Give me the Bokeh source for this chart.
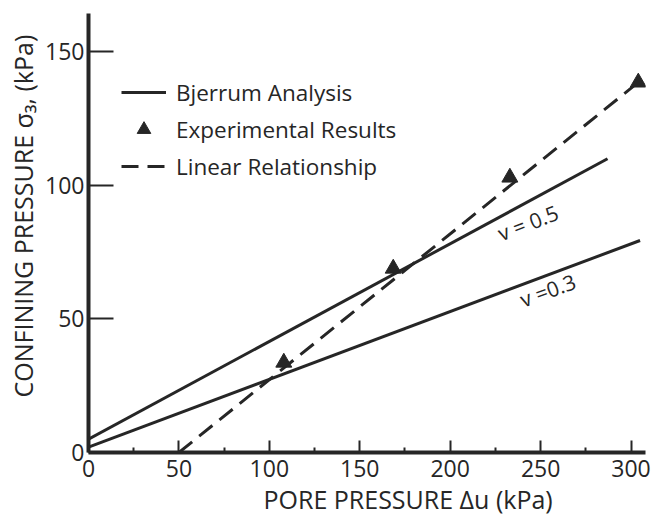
import math
from bokeh.plotting import figure
from bokeh.models import FixedTicker, Legend, LegendItem, Range1d, Title
from bokeh.core.properties import value
from bokeh.embed import file_html
from bokeh.resources import INLINE

# ---- data ----
x_ticks = [0, 50, 100, 150, 200, 250, 300]
x_minor_ticks = [25, 75, 125, 175, 225, 275]
y_ticks = [0, 50, 100, 150]

v05_x = [0, 287]
v05_y = [5, 110]
v03_x = [0, 305]
v03_y = [2, 79.4]

lin_x = [50, 304]
lin_y = [0, 138.6]

exp_x = [108, 168.5, 233, 304]
exp_y = [33.7, 68.9, 103, 138.6]

nu_labels = ["v = 0.5", "v =0.3"]
nu_label_x = [243, 254]
nu_label_y = [86, 60.7]
nu_label_angle_deg = [21, 20]

x_title = "PORE PRESSURE Δu (kPa)"
y_title = "CONFINING PRESSURE σ₃, (kPa)"

INK = "#262626"
FONT = "Open Sans"

p = figure(width=660, height=517,
           x_range=Range1d(0, 308), y_range=Range1d(0, 164.4),
           output_backend="svg", toolbar_location=None,
           min_border_left=88, min_border_right=15,
           min_border_top=13, min_border_bottom=65,
           background_fill_color="white", border_fill_color="white")
p.outline_line_color = None
p.grid.visible = False

# axes
p.xaxis.ticker = FixedTicker(ticks=x_ticks, minor_ticks=x_minor_ticks)
p.yaxis.ticker = FixedTicker(ticks=y_ticks)
for ax in (p.xaxis, p.yaxis):
    ax.axis_line_width = 4
    ax.axis_line_color = INK
    ax.major_tick_line_color = INK
    ax.major_tick_line_width = 2
    ax.major_tick_out = 0
    ax.minor_tick_out = 0
    ax.major_label_text_font = FONT
    ax.major_label_text_font_size = "23px"
    ax.major_label_text_color = INK

p.xaxis.major_tick_in = 12
p.xaxis.minor_tick_in = 5
p.xaxis.minor_tick_line_color = INK
p.xaxis.minor_tick_line_width = 2
p.xaxis.major_label_standoff = 7

p.yaxis.major_tick_in = 25
p.yaxis.minor_tick_line_color = None
p.yaxis.major_label_standoff = 4

# axis titles (placed off-centre, as in the reference)
p.add_layout(Title(text=x_title, align="left", offset=175, standoff=0,
                   text_font=FONT, text_font_size="25px",
                   text_font_style="normal", text_color=INK), "below")
p.add_layout(Title(text=y_title, align="left", offset=55, standoff=5,
                   text_font=FONT, text_font_size="25px",
                   text_font_style="normal", text_color=INK), "left")

# data
r05 = p.line(v05_x, v05_y, line_color=INK, line_width=3)
r03 = p.line(v03_x, v03_y, line_color=INK, line_width=3)
rlin = p.line(lin_x, lin_y, line_color=INK, line_width=3, line_dash="17 9")
rexp = p.scatter(exp_x, exp_y, marker="triangle", size=16,
                 fill_color=INK, line_color=INK)

p.text(x=nu_label_x, y=nu_label_y, text=nu_labels,
       angle=[math.radians(a) for a in nu_label_angle_deg],
       text_font=value(FONT), text_font_size="21px", text_color=INK,
       text_align="center", text_baseline="middle")

legend = Legend(items=[
    LegendItem(label="Bjerrum Analysis", renderers=[r05]),
    LegendItem(label="Experimental Results", renderers=[rexp]),
    LegendItem(label="Linear Relationship", renderers=[rlin]),
], location=(33, 269))
legend.glyph_width = 45
legend.glyph_height = 34
legend.label_height = 34
legend.spacing = 3
legend.padding = 0
legend.margin = 0
legend.label_standoff = 10
legend.border_line_color = None
legend.background_fill_alpha = 0
legend.label_text_font = FONT
legend.label_text_font_size = "22.5px"
legend.label_text_color = INK
p.add_layout(legend, "center")

open("out.html", "w").write(file_html(p, INLINE))
